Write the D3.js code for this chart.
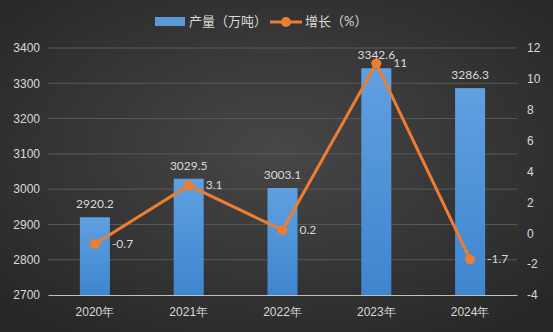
<!DOCTYPE html>
<html>
<head>
<meta charset="utf-8">
<script src="https://cdn.jsdelivr.net/npm/d3@7"></script>
<style>
  body { margin: 0; background: #2b2b2b; }
  svg { display: block; font-family: Lato, "Noto Sans CJK SC", sans-serif; }
</style>
</head>
<body>
<div id="chart"></div>
<script>
// data
var years = ["2020年", "2021年", "2022年", "2023年", "2024年"];
var output = [2920.2, 3029.5, 3003.1, 3342.6, 3286.3];   // 产量（万吨）
var growth = [-0.7, 3.1, 0.2, 11, -1.7];                // 增长（%）
var leftTicks = [2700, 2800, 2900, 3000, 3100, 3200, 3300, 3400];
var rightTicks = [-4, -2, 0, 2, 4, 6, 8, 10, 12];

var W = 553, H = 332;
var margin = { top: 48, right: 36, bottom: 37, left: 48 },
  width = W - margin.left - margin.right,
  height = H - margin.top - margin.bottom;

var svg = d3.select("#chart").append("svg")
  .attr("width", W)
  .attr("height", H);

var defs = svg.append("defs");
var bg = defs.append("radialGradient").attr("id", "bg")
  .attr("cx", "50%").attr("cy", "45%").attr("r", "70%");
bg.append("stop").attr("offset", "0%").attr("stop-color", "#474747");
bg.append("stop").attr("offset", "100%").attr("stop-color", "#262626");

var barGrad = defs.append("linearGradient").attr("id", "barGrad")
  .attr("x1", 0).attr("y1", 0).attr("x2", 0).attr("y2", 1);
barGrad.append("stop").attr("offset", "0%").attr("stop-color", "#5fa0e0");
barGrad.append("stop").attr("offset", "100%").attr("stop-color", "#3f86cf");

svg.append("rect").attr("width", W).attr("height", H).attr("fill", "url(#bg)");

var g = svg.append("g")
  .attr("transform", "translate(" + margin.left + "," + margin.top + ")");

var x = d3.scaleBand().domain(years).range([0, width]).paddingInner(0.68).paddingOuter(0.34);
var y = d3.scaleLinear().domain([2700, 3400]).range([height, 0]);
var y2 = d3.scaleLinear().domain([-4, 12]).range([height, 0]);

// gridlines
g.append("g").selectAll("line")
  .data(leftTicks.slice(1))
  .enter().append("line")
  .attr("x1", 0).attr("x2", width)
  .attr("y1", d => y(d)).attr("y2", d => y(d))
  .attr("stroke", "#5a5a5a").attr("stroke-width", 1);

// left axis
var yAxis = g.append("g")
  .call(d3.axisLeft(y).tickValues(leftTicks).tickFormat(d => String(d)).tickSize(0).tickPadding(8));
yAxis.select(".domain").remove();
yAxis.selectAll("text").attr("fill", "#d9d9d9").style("font-size", "12px");

// right axis
var y2Axis = g.append("g")
  .attr("transform", "translate(" + width + ",0)")
  .call(d3.axisRight(y2).tickValues(rightTicks).tickFormat(d => String(d)).tickSize(0).tickPadding(10));
y2Axis.select(".domain").remove();
y2Axis.selectAll("text").attr("fill", "#d9d9d9").style("font-size", "12px");

// bars
g.selectAll(".bar")
  .data(output)
  .enter().append("rect")
  .attr("class", "bar")
  .attr("x", (d, i) => x(years[i]))
  .attr("y", d => y(d))
  .attr("width", x.bandwidth())
  .attr("height", d => height - y(d))
  .attr("fill", "url(#barGrad)");

// bar labels
g.selectAll(".barLabel")
  .data(output)
  .enter().append("text")
  .attr("x", (d, i) => x(years[i]) + x.bandwidth() / 2)
  .attr("y", d => y(d) - 9)
  .attr("text-anchor", "middle")
  .attr("fill", "#d9d9d9")
  .style("font-size", "12px")
  .text(d => d.toFixed(1));

// x axis
var xAxis = g.append("g")
  .attr("transform", "translate(0," + height + ")")
  .call(d3.axisBottom(x).tickSize(0).tickPadding(12));
xAxis.select(".domain").attr("stroke", "#bfbfbf").attr("stroke-width", 1.2);
xAxis.selectAll("text").attr("fill", "#d9d9d9").style("font-size", "12px");

// growth line
var cx = (d, i) => x(years[i]) + x.bandwidth() / 2;
var line = d3.line()
  .x(cx)
  .y(d => y2(d));

g.append("path")
  .datum(growth)
  .attr("d", line)
  .attr("fill", "none")
  .attr("stroke", "#ed7d31")
  .attr("stroke-width", 3)
  .attr("stroke-linejoin", "round");

g.selectAll(".dot")
  .data(growth)
  .enter().append("circle")
  .attr("cx", cx)
  .attr("cy", d => y2(d))
  .attr("r", 5)
  .attr("fill", "#ed7d31");

g.selectAll(".lineLabel")
  .data(growth)
  .enter().append("text")
  .attr("x", (d, i) => cx(d, i) + 17)
  .attr("y", d => y2(d) + 4)
  .attr("fill", "#d9d9d9")
  .style("font-size", "12px")
  .text(d => d);

// legend
var legend = svg.append("g").attr("transform", "translate(155,21)");
legend.append("rect")
  .attr("x", 0).attr("y", -4).attr("width", 30).attr("height", 9)
  .attr("fill", "#5b9bd5");
legend.append("text")
  .attr("x", 34).attr("y", 5)
  .attr("fill", "#d9d9d9").style("font-size", "13px")
  .text("产量（万吨）");
legend.append("line")
  .attr("x1", 115).attr("x2", 147).attr("y1", 1).attr("y2", 1)
  .attr("stroke", "#ed7d31").attr("stroke-width", 3);
legend.append("circle")
  .attr("cx", 131).attr("cy", 1).attr("r", 5).attr("fill", "#ed7d31");
legend.append("text")
  .attr("x", 150).attr("y", 5)
  .attr("fill", "#d9d9d9").style("font-size", "13px")
  .text("增长（%）");
</script>
</body>
</html>
